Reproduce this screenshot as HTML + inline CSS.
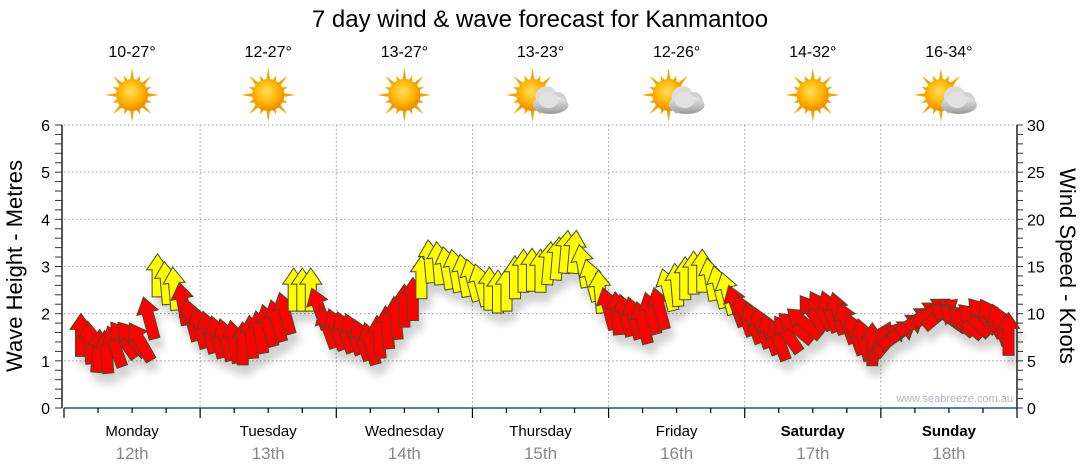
<!DOCTYPE html>
<html><head><meta charset="utf-8"><style>
html,body{margin:0;padding:0;background:#fff;}
svg{display:block;font-family:"Liberation Sans",sans-serif;}
</style></head><body>
<svg id="chart" width="1080" height="475" viewBox="0 0 1080 475" xmlns="http://www.w3.org/2000/svg">
<defs>
<radialGradient id="sunG" cx="45%" cy="40%" r="60%"><stop offset="0" stop-color="#ffe060"/><stop offset="0.6" stop-color="#ffb300"/><stop offset="1" stop-color="#e88a00"/></radialGradient>
<linearGradient id="cloudG" x1="0" y1="0" x2="0" y2="1"><stop offset="0" stop-color="#eeeeee"/><stop offset="1" stop-color="#9a9a9a"/></linearGradient>
<filter id="sh" x="-30%" y="-30%" width="160%" height="160%"><feGaussianBlur in="SourceAlpha" stdDeviation="4"/><feOffset dx="4" dy="10"/><feComponentTransfer><feFuncA type="linear" slope="0.18"/></feComponentTransfer><feMerge><feMergeNode/><feMergeNode in="SourceGraphic"/></feMerge></filter>
</defs>
<text x="540" y="27" text-anchor="middle" font-size="24" fill="#000">7 day wind &amp; wave forecast for Kanmantoo</text>
<g id="header"></g>
<g id="grid"></g>
<g id="axes"></g>
<text x="1013" y="402" text-anchor="end" font-size="11" fill="#b0b8c4">www.seabreeze.com.au</text>
<g id="arrows" filter="url(#sh)"></g>
<text transform="translate(22,266) rotate(-90)" text-anchor="middle" font-size="22" fill="#000">Wave Height - Metres</text>
<text transform="translate(1060,266) rotate(90)" text-anchor="middle" font-size="22" fill="#000">Wind Speed - Knots</text>
</svg>
<script>
const days = ["Monday","Tuesday","Wednesday","Thursday","Friday","Saturday","Sunday"];
const dates = ["12th","13th","14th","15th","16th","17th","18th"];
const temps = ["10-27°","12-27°","13-27°","13-23°","12-26°","14-32°","16-34°"];
const cloudy = [false,false,false,true,true,false,true];
const waveTicks = [0,1,2,3,4,5,6];
const windTicks = [0,5,10,15,20,25,30];
const startHour = 3;
const stepHours = 1.5;
const windSpeeds = [7.7,6.9,6.0,5.9,6.5,7.2,7.3,7.0,9.5,14.0,13.2,12.6,11.0,9.3,8.5,8.0,
7.5,7.2,7.0,6.8,7.5,8.0,8.7,9.2,10.0,12.5,12.5,12.5,10.5,8.5,8.3,8.0,
7.8,7.2,6.8,7.5,8.5,9.5,10.8,11.5,13.8,15.5,15.3,14.8,14.5,14.0,13.5,13.0,
12.6,12.3,12.5,13.8,14.5,14.6,14.5,15.3,15.8,16.5,16.5,15.0,13.5,12.3,10.5,10.0,
9.8,9.5,9.0,10.0,10.5,12.5,13.0,13.7,14.3,14.5,13.6,12.8,12.1,10.8,9.8,9.0,
8.5,7.8,7.2,7.8,8.5,9.0,10.0,10.3,10.2,10.0,9.0,7.8,7.2,6.7,7.0,7.3,
7.8,8.5,9.2,9.8,10.2,10.0,9.6,9.3,9.0,9.3,9.8,9.5,8.8,7.8];
const windDirs = [0,-5,5,-5,-20,-35,-40,-30,-15,0,-5,-5,-10,-15,-15,-15,
-15,-15,-10,0,-5,-10,-15,-15,-15,0,0,0,-20,-20,-20,-20,
-20,-20,-15,-5,-5,-5,0,0,0,-5,-5,-10,-10,-10,-15,-15,
0,0,0,0,0,0,0,5,5,5,5,-10,-15,-5,-15,-5,
-15,-15,-15,-15,-15,-15,-5,0,0,0,-10,-15,-15,-20,-20,-20,
-20,-20,-20,-35,-50,-50,-35,-30,-20,-15,-20,-20,-15,0,25,40,
55,55,55,55,55,50,-55,-50,-50,-45,-40,-30,-20,0];

const NS="http://www.w3.org/2000/svg";
const X0=64, X1=1017, Y0=408, Y6=125;
const xH = h => X0 + h*(X1-X0)/168;
const yM = m => Y0 - m*(Y0-Y6)/6;
const yK = k => Y0 - k*(Y0-Y6)/30;
function mk(tag, attrs, parent){const e=document.createElementNS(NS,tag);for(const k in attrs)e.setAttribute(k,attrs[k]);parent.appendChild(e);return e;}

const header=document.getElementById('header');
const grid=document.getElementById('grid');
const axes=document.getElementById('axes');
const arrows=document.getElementById('arrows');

waveTicks.forEach(t=>{ if(t===0) return;
  const l=mk('line',{x1:X0,x2:X1,y1:yM(t),y2:yM(t),stroke:'#999','stroke-dasharray':'1.5,2.5','stroke-width':1},grid);
  
  
});
for(let d=1;d<7;d++){
  const l=mk('line',{x1:xH(d*24),x2:xH(d*24),y1:Y6,y2:Y0,stroke:'#999','stroke-dasharray':'1.5,2.5','stroke-width':1},grid);
  
  
}
const la=mk('line',{x1:62,x2:62,y1:Y6,y2:Y0,stroke:'#000','stroke-width':1.3},axes);


const ra=mk('line',{x1:X1,x2:X1,y1:Y6,y2:Y0,stroke:'#000','stroke-width':1.3},axes);


const ba=mk('line',{x1:X0,x2:X1,y1:Y0,y2:Y0,stroke:'#1b5c88','stroke-width':1.5},axes);


for(let i=0;i<=30;i++){
  const y=Y0-i*(Y0-Y6)/30;
  mk('line',{x1:55,x2:62,y1:y,y2:y,stroke:'#333','stroke-width':1},axes);
  mk('line',{x1:X1,x2:X1+6,y1:y,y2:y,stroke:'#333','stroke-width':1},axes);
}
waveTicks.forEach(t=>{
  const tx=mk('text',{x:50,y:yM(t)+6,'text-anchor':'end','font-size':16,fill:'#000'},axes);
  tx.textContent=t;
  
  
});
windTicks.forEach(t=>{
  const tx=mk('text',{x:1027,y:yK(t)+6,'text-anchor':'start','font-size':16,fill:'#000'},axes);
  tx.textContent=t;
  
  
});
for(let h=0;h<=168;h+=6){
  const major=h%24===0;
  mk('line',{x1:xH(h),x2:xH(h),y1:Y0,y2:Y0+(major?10:5),stroke:'#000','stroke-width':1.2},axes);
}
days.forEach((d,i)=>{
  const cx=xH(i*24+12);
  const bold=i>=5;
  const t=mk('text',{x:cx,y:436,'text-anchor':'middle','font-size':15,fill:'#000','font-weight':bold?'bold':'normal'},axes);
  t.textContent=d;
  
  
  const t2=mk('text',{x:cx,y:459,'text-anchor':'middle','font-size':17,fill:'#888'},axes);
  t2.textContent=dates[i];
  
  
  const t3=mk('text',{x:cx,y:57,'text-anchor':'middle','font-size':16,fill:'#000'},header);
  t3.textContent=temps[i];
  
  
  const g=mk('g',{transform:'translate('+(cx-(cloudy[i]?8:0))+',95)'},header);
  
  
  for(let r=0;r<16;r++){
    const a=r*Math.PI/8, L=(r%2?21:27);
    const bx=Math.cos(a+0.13)*15, by=Math.sin(a+0.13)*15, cx2=Math.cos(a-0.13)*15, cy2=Math.sin(a-0.13)*15;
    mk('polygon',{points:`${bx},${by} ${Math.cos(a)*L},${Math.sin(a)*L} ${cx2},${cy2}`,fill:'#f3a200'},g);
  }
  mk('circle',{cx:0,cy:0,r:16,fill:'url(#sunG)'},g);
  if(cloudy[i]){
    const c=mk('g',{transform:'translate(16,5)'},g);
    mk('circle',{cx:-2,cy:-3,r:11,fill:'#dcdcdc'},c);
    mk('circle',{cx:9,cy:1,r:9,fill:'#d0d0d0'},c);
    mk('ellipse',{cx:2,cy:5,rx:18,ry:9,fill:'url(#cloudG)'},c);
    mk('ellipse',{cx:0,cy:0,rx:10,ry:8,fill:'#e2e2e2'},c);
  }
});
windSpeeds.forEach((s,k)=>{
  const x=xH(startHour+stepHours*k), y=yK(s);
  const col=s>=12?'#ffff00':'#ff0000';
  const p=mk('polygon',{points:'0,-22 11,-6 5.5,-6 5.5,21 -5.5,21 -5.5,-6 -11,-6',fill:col,stroke:'#4a4a2a','stroke-width':1,
    transform:`translate(${x.toFixed(1)},${y.toFixed(1)}) rotate(${windDirs[k]})`},arrows);
  
  
});
</script>
</body></html>
